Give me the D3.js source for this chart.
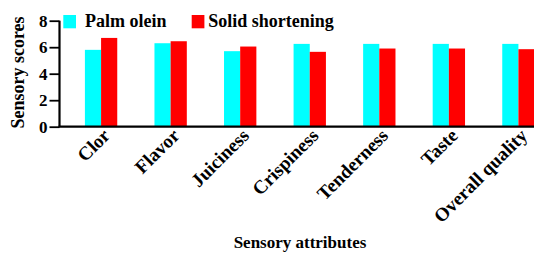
<!DOCTYPE html>
<html>
<head>
<meta charset="utf-8">
<script src="https://cdn.jsdelivr.net/npm/d3@7"></script>
</head>
<body style="margin:0;background:#fff">
<svg width="534" height="253"></svg>
<script>
var categories = ["Clor", "Flavor", "Juiciness", "Crispiness", "Tenderness", "Taste", "Overall quality"];
var seriesNames = ["Palm olein", "Solid shortening"];
var palmOlein = [5.8, 6.3, 5.7, 6.25, 6.25, 6.25, 6.25];
var solidShortening = [6.7, 6.45, 6.05, 5.65, 5.9, 5.9, 5.85];
var yTicks = [0, 2, 4, 6, 8];
var colors = ["#00ffff", "#ff0000"];

function font(size) {
    return "font-family:'Liberation Serif';font-weight:bold;font-size:" + size + "px;fill:#000";
}

var data = categories.map(function(c, i) {
    return { cat: c, values: [palmOlein[i], solidShortening[i]] };
});

var svg = d3.select("svg");
var g = svg.append("g");

var x0 = d3.scaleBand()
    .domain(categories)
    .range([66.3, 553.2])
    .paddingInner(0.535)
    .paddingOuter(0.2675);
var x1 = d3.scaleBand()
    .domain([0, 1])
    .range([0, x0.bandwidth()]);
var y = d3.scaleLinear()
    .domain([0, 8])
    .range([126.7, 20.7]);

// bars
g.selectAll(".grp")
    .data(data)
    .enter().append("g")
    .attr("transform", (d) => "translate(" + x0(d.cat) + ",0)")
  .selectAll("rect")
    .data((d) => d.values.map((v, k) => ({ k: k, v: v })))
    .enter().append("rect")
    .attr("x", (d) => x1(d.k))
    .attr("width", x1.bandwidth())
    .attr("y", (d) => y(d.v))
    .attr("height", (d) => y(0) - y(d.v))
    .attr("fill", (d) => colors[d.k]);

// y axis
var yAxis = g.append("g")
    .attr("transform", "translate(59.5,0)")
    .call(d3.axisLeft(y).tickValues(yTicks).tickSize(10).tickPadding(2));
yAxis.select(".domain").attr("stroke-width", 2.2).attr("d", "M0," + y(8) + "V" + y(0));
yAxis.selectAll(".tick line").attr("stroke-width", 1.8);
yAxis.selectAll("text").attr("style", font(17));

// x axis
var xAxis = g.append("g")
    .attr("transform", "translate(0," + y(0) + ")")
    .call(d3.axisBottom(x0).tickSize(0).tickPadding(0));
xAxis.select(".domain").attr("stroke-width", 2.2).attr("d", "M58.5,0H534");
xAxis.selectAll("text")
    .attr("style", font(19))
    .attr("text-anchor", "end")
    .attr("dy", null)
    .attr("y", 0)
    .attr("transform", "translate(10,10) rotate(-45)");

// axis titles
svg.append("text")
    .attr("transform", "translate(24,72.5) rotate(-90)")
    .attr("text-anchor", "middle")
    .attr("style", font(18))
    .text("Sensory scores");
svg.append("text")
    .attr("x", 300).attr("y", 248)
    .attr("text-anchor", "middle")
    .attr("style", font(17))
    .text("Sensory attributes");

// legend
var legendX = [63.3, 191.7];
var leg = svg.selectAll(".leg")
    .data(seriesNames)
    .enter().append("g")
    .attr("transform", (d, i) => "translate(" + legendX[i] + ",15)");
leg.append("rect")
    .attr("width", 12.7).attr("height", 13.3)
    .attr("fill", (d, i) => colors[i]);
leg.append("text")
    .attr("x", (d, i) => i === 0 ? 21.7 : 16.6)
    .attr("y", 11.8)
    .attr("style", font(18))
    .text((d) => d);
</script>
</body>
</html>
